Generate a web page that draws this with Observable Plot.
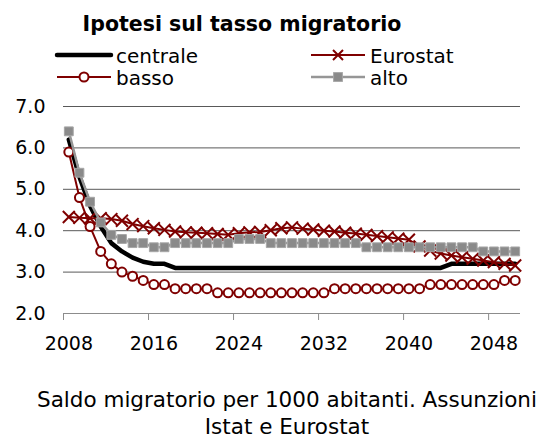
<!DOCTYPE html>
<html>
<head>
<meta charset="utf-8">
<script src="https://cdn.jsdelivr.net/npm/d3@7"></script>
<script src="https://cdn.jsdelivr.net/npm/@observablehq/plot@0.6"></script>
<style>
html, body { margin: 0; padding: 0; background: #fff; }
#wrap { position: relative; width: 539px; height: 438px; overflow: hidden; font-family: "DejaVu Sans", Verdana, sans-serif; color: #000; }
#chart { position: absolute; left: 0; top: 0; }
#title { position: absolute; left: 0; width: 484px; top: 12px; text-align: center; font-weight: bold; font-size: 20.5px; line-height: 24px; white-space: nowrap; }
#legend { position: absolute; left: 0; top: 0; }
.cap { position: absolute; left: 0; width: 574px; text-align: center; font-size: 21.5px; line-height: 22px; white-space: nowrap; }
#cap1 { top: 389px; }
#cap2 { top: 416px; }
</style>
</head>
<body>
<div id="wrap">
  <div id="chart"></div>
  <div id="title">Ipotesi sul tasso migratorio</div>
  <svg id="legend" width="539" height="100"></svg>
  <div class="cap" id="cap1">Saldo migratorio per 1000 abitanti. Assunzioni</div>
  <div class="cap" id="cap2">Istat e Eurostat</div>
</div>
<script>
const years = [2008, 2009, 2010, 2011, 2012, 2013, 2014, 2015, 2016, 2017,
  2018, 2019, 2020, 2021, 2022, 2023, 2024, 2025, 2026, 2027,
  2028, 2029, 2030, 2031, 2032, 2033, 2034, 2035, 2036, 2037,
  2038, 2039, 2040, 2041, 2042, 2043, 2044, 2045, 2046, 2047,
  2048, 2049, 2050];

const centrale = [6.2, 5.3, 4.6, 4.1, 3.7, 3.5, 3.35, 3.25, 3.2, 3.2,
  3.1, 3.1, 3.1, 3.1, 3.1, 3.1, 3.1, 3.1, 3.1, 3.1,
  3.1, 3.1, 3.1, 3.1, 3.1, 3.1, 3.1, 3.1, 3.1, 3.1,
  3.1, 3.1, 3.1, 3.1, 3.1, 3.1, 3.2, 3.2, 3.2, 3.2,
  3.2, 3.2, 3.2];

const eurostat = [4.33, 4.31, 4.30, 4.30, 4.28, 4.24, 4.16, 4.11, 4.06, 4.02,
  3.98, 3.96, 3.95, 3.94, 3.92, 3.90, 3.94, 3.96, 3.97, 4.01,
  4.06, 4.08, 4.05, 4.03, 4.00, 3.98, 3.95, 3.93, 3.90, 3.87,
  3.84, 3.81, 3.78, 3.62, 3.52, 3.45, 3.40, 3.36, 3.32, 3.28,
  3.24, 3.20, 3.16];

const basso = [5.9, 4.8, 4.1, 3.5, 3.2, 3.0, 2.9, 2.8, 2.7, 2.7,
  2.6, 2.6, 2.6, 2.6, 2.5, 2.5, 2.5, 2.5, 2.5, 2.5,
  2.5, 2.5, 2.5, 2.5, 2.5, 2.6, 2.6, 2.6, 2.6, 2.6,
  2.6, 2.6, 2.6, 2.6, 2.7, 2.7, 2.7, 2.7, 2.7, 2.7,
  2.7, 2.8, 2.8];

const alto = [6.4, 5.4, 4.7, 4.2, 3.9, 3.8, 3.7, 3.7, 3.6, 3.6,
  3.7, 3.7, 3.7, 3.7, 3.7, 3.7, 3.8, 3.8, 3.8, 3.7,
  3.7, 3.7, 3.7, 3.7, 3.7, 3.7, 3.7, 3.7, 3.6, 3.6,
  3.6, 3.6, 3.6, 3.6, 3.6, 3.6, 3.6, 3.6, 3.6, 3.5,
  3.5, 3.5, 3.5];

const seriesNames = ["centrale", "Eurostat", "basso", "alto"];
const yTicks = [2, 3, 4, 5, 6, 7];
const xTickLabels = [2008, 2016, 2024, 2032, 2040, 2048];

const RED = "#7f0000";
const GREY = "#969696";

const rows = (name, vals) => years.map((year, i) => ({ year, value: vals[i], series: name }));
const dC = rows("centrale", centrale);
const dE = rows("Eurostat", eurostat);
const dB = rows("basso", basso);
const dA = rows("alto", alto);

const tickBoundaries = xTickLabels.map(d => d - 0.5);

const chart = Plot.plot({
  width: 539,
  height: 438,
  marginLeft: 63,
  marginRight: 19,
  marginTop: 106,
  marginBottom: 125,
  x: { domain: [2007.5, 2050.5], label: null },
  y: { domain: [2, 7], label: null },
  style: { fontFamily: "'DejaVu Sans', Verdana, sans-serif", fontSize: "19px", background: "transparent", color: "#000" },
  marks: [
    Plot.ruleY(yTicks.filter(d => d > 2), { stroke: "#595959", strokeWidth: 1 }),
    Plot.ruleY([2], { stroke: "#8c8c8c", strokeWidth: 1 }),
    Plot.axisY({ ticks: yTicks, tickSize: 0, tickPadding: 18, tickFormat: d => d.toFixed(1), fontSize: 19, color: "#000", label: null }),
    Plot.axisX({ ticks: tickBoundaries, tickSize: 7, tickFormat: () => "", stroke: "#8c8c8c", strokeOpacity: 1, label: null }),
    Plot.axisX({ ticks: xTickLabels, tickSize: 0, tickPadding: 23, tickFormat: d => String(d), fontSize: 19, color: "#000", label: null }),
    Plot.lineY(dC, { x: "year", y: "value", stroke: "#000", strokeWidth: 4.5, strokeLinejoin: "round" }),
    Plot.lineY(dE, { x: "year", y: "value", stroke: RED, strokeWidth: 2 }),
    Plot.dot(dE, { x: "year", y: "value", symbol: "times", r: 5.5, stroke: RED, strokeWidth: 2 }),
    Plot.lineY(dB, { x: "year", y: "value", stroke: RED, strokeWidth: 2 }),
    Plot.dot(dB, { x: "year", y: "value", symbol: "circle", r: 4.5, fill: "#fff", stroke: RED, strokeWidth: 2 }),
    Plot.lineY(dA, { x: "year", y: "value", stroke: GREY, strokeWidth: 2.5 }),
    Plot.dot(dA, { x: "year", y: "value", symbol: "square", r: 5, fill: "#8a8a8a", stroke: "#a6a6a6", strokeWidth: 1 })
  ]
});
document.getElementById("chart").appendChild(chart);

// Legend
const lg = d3.select("#legend");
const items = [
  { name: seriesNames[0], x: 57, y: 55, kind: "line" },
  { name: seriesNames[1], x: 311, y: 55, kind: "times" },
  { name: seriesNames[2], x: 57, y: 77, kind: "circle" },
  { name: seriesNames[3], x: 311, y: 77, kind: "square" }
];
for (const it of items) {
  const g = lg.append("g");
  const x1 = it.x, x2 = it.x + 54, cx = it.x + 27;
  if (it.kind === "line") {
    g.append("line").attr("x1", x1).attr("x2", x2).attr("y1", it.y).attr("y2", it.y)
      .attr("stroke", "#000").attr("stroke-width", 4.5).attr("stroke-linecap", "round");
  } else if (it.kind === "times") {
    g.append("line").attr("x1", x1).attr("x2", x2).attr("y1", it.y).attr("y2", it.y)
      .attr("stroke", RED).attr("stroke-width", 2);
    g.append("path").attr("d", `M${cx-5},${it.y-5}L${cx+5},${it.y+5}M${cx-5},${it.y+5}L${cx+5},${it.y-5}`)
      .attr("stroke", RED).attr("stroke-width", 2);
  } else if (it.kind === "circle") {
    g.append("line").attr("x1", x1).attr("x2", x2).attr("y1", it.y).attr("y2", it.y)
      .attr("stroke", RED).attr("stroke-width", 2);
    g.append("circle").attr("cx", cx).attr("cy", it.y).attr("r", 4.5)
      .attr("fill", "#fff").attr("stroke", RED).attr("stroke-width", 2);
  } else {
    g.append("line").attr("x1", x1).attr("x2", x2).attr("y1", it.y).attr("y2", it.y)
      .attr("stroke", GREY).attr("stroke-width", 2.5);
    g.append("rect").attr("x", cx - 4.4).attr("y", it.y - 4.4).attr("width", 8.8).attr("height", 8.8)
      .attr("fill", "#8a8a8a").attr("stroke", "#a6a6a6").attr("stroke-width", 1);
  }
  g.append("text").attr("x", it.x + 59).attr("y", it.y + 8)
    .attr("font-family", "'DejaVu Sans', Verdana, sans-serif").attr("font-size", 20)
    .attr("fill", "#000").text(it.name);
}
</script>
</body>
</html>
